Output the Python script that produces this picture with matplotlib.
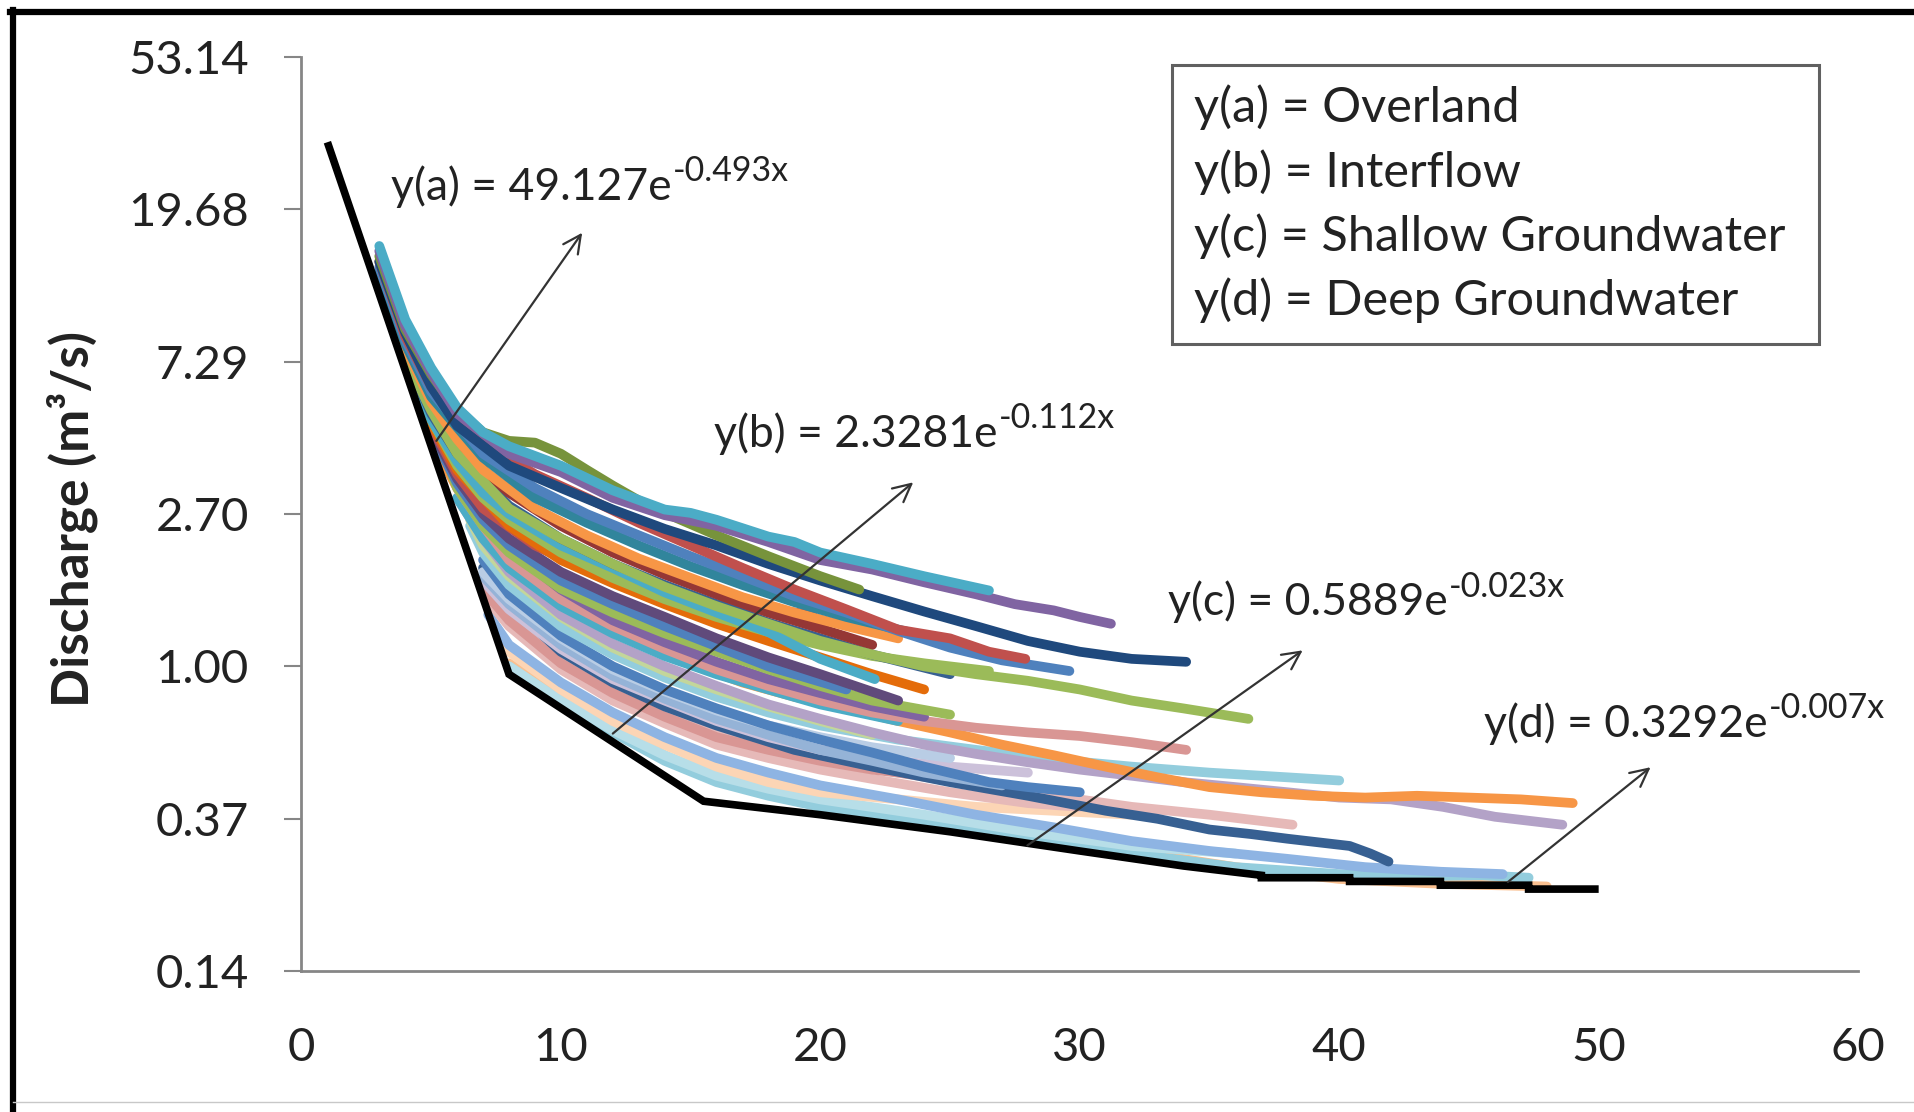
import matplotlib
matplotlib.use("Agg")
import matplotlib.pyplot as plt
from matplotlib.lines import Line2D
from matplotlib.patches import Rectangle

plt.rcParams['font.family'] = ['Lato', 'DejaVu Sans']

# ---------------- data ----------------
x_ticks = [0, 10, 20, 30, 40, 50, 60]
y_ticks = [0.13717, 0.37037, 1.0, 2.7, 7.29, 19.683, 53.1441]
y_tick_labels = ['0.14', '0.37', '1.00', '2.70', '7.29', '19.68', '53.14']

# master recession (black)
master_x = [1, 8, 15.5, 20, 25, 30, 34, 37, 37, 40.4, 40.4, 43.9, 43.9, 47.3, 47.3, 50]
master_y = [30.5, 0.95, 0.415, 0.38, 0.34, 0.30, 0.272, 0.256, 0.252, 0.252, 0.246, 0.246, 0.240, 0.240, 0.234, 0.234]

c02_x = [3, 4, 5, 6, 8, 10, 12, 14, 16, 18, 20, 22, 24, 26, 27.5, 29, 30, 31.2]
c02_y = [15, 9.2, 6.8, 5.2, 4.0, 3.55, 3.0, 2.68, 2.5, 2.25, 2.0, 1.88, 1.73, 1.6, 1.5, 1.44, 1.38, 1.32]
c01_x = [3, 4, 5, 6, 7, 8, 10, 12, 14, 15, 16, 18, 19, 20, 22, 24, 26.5]
c01_y = [15.5, 9.6, 7.0, 5.4, 4.6, 4.2, 3.7, 3.15, 2.78, 2.72, 2.6, 2.33, 2.25, 2.1, 1.95, 1.8, 1.64]
c03_x = [3, 4, 5, 6, 7, 8, 9, 10, 11, 12, 13, 14, 16, 18, 20, 21.5]
c03_y = [14.5, 9.0, 6.7, 5.3, 4.6, 4.35, 4.3, 4.0, 3.6, 3.25, 2.95, 2.72, 2.35, 2.05, 1.8, 1.65]
c04_x = [3, 4, 5, 6, 8, 10, 12, 14, 16, 18, 20, 22, 24, 26, 28, 30, 32, 34.1]
c04_y = [14, 8.8, 6.2, 4.8, 3.7, 3.2, 2.78, 2.45, 2.2, 1.95, 1.75, 1.58, 1.43, 1.3, 1.18, 1.1, 1.05, 1.03]
c05_x = [3, 4, 5, 7, 9, 11, 13, 15, 17, 19, 21, 23, 25, 26.5, 27.9]
c05_y = [14, 8.6, 6.2, 4.3, 3.5, 3.0, 2.55, 2.2, 1.9, 1.65, 1.45, 1.27, 1.2, 1.1, 1.05]
c06_x = [3, 4, 5, 7, 9, 11, 13, 15, 17, 19, 21, 23, 25, 27, 29.6]
c06_y = [13.5, 8.4, 6.0, 4.0, 3.2, 2.7, 2.35, 2.05, 1.8, 1.58, 1.42, 1.26, 1.13, 1.04, 0.97]
c07_x = [3, 4, 5, 7, 9, 11, 13, 15, 17, 19, 21, 24]
c07_y = [13, 8.2, 5.8, 3.9, 3.0, 2.55, 2.2, 1.92, 1.7, 1.52, 1.38, 1.22]
c08_x = [3.5, 4, 5, 6, 7, 9, 11, 13, 15, 17, 19, 21, 23]
c08_y = [11, 8.0, 5.6, 4.4, 3.6, 2.8, 2.35, 2.02, 1.78, 1.57, 1.42, 1.3, 1.2]
c09_x = [4, 5, 6, 8, 10, 12, 14, 16, 18, 20, 22, 24, 26, 28, 30, 32, 34, 36.5]
c09_y = [7.5, 5.3, 4.0, 2.8, 2.3, 1.95, 1.68, 1.48, 1.32, 1.18, 1.08, 1.0, 0.95, 0.91, 0.86, 0.8, 0.76, 0.71]
c10_x = [3.5, 4, 5, 6, 8, 10, 12, 14, 16, 18, 20, 22]
c10_y = [10.5, 7.8, 5.4, 4.2, 3.1, 2.5, 2.1, 1.82, 1.6, 1.42, 1.28, 1.15]
c11_x = [4, 5, 6, 8, 10, 12, 14, 16, 18, 20, 22, 25]
c11_y = [7.6, 5.2, 4.0, 2.85, 2.3, 1.95, 1.7, 1.5, 1.33, 1.2, 1.08, 0.95]
c12_x = [4, 5, 6, 7, 8, 10, 12, 14, 16, 18, 20, 22.1]
c12_y = [7.4, 5.0, 3.8, 3.1, 2.7, 2.2, 1.9, 1.62, 1.42, 1.25, 1.05, 0.92]
c13_x = [4.5, 5, 6, 7, 8, 10, 12, 14, 16, 18, 20, 22, 24, 26.5]
c13_y = [6.2, 5.0, 3.7, 3.0, 2.6, 2.1, 1.78, 1.55, 1.38, 1.25, 1.15, 1.07, 1.02, 0.97]
c14_x = [4.5, 5, 6, 8, 10, 12, 14, 16, 18, 20, 22, 24]
c14_y = [6.0, 4.9, 3.6, 2.5, 2.0, 1.72, 1.5, 1.32, 1.18, 1.06, 0.95, 0.86]
c15_x = [5, 6, 7, 9, 11.5, 14, 16, 18, 19.7]
c15_y = [4.8, 3.5, 2.8, 2.2, 1.8, 1.6, 1.5, 1.45, 1.4]
c16_x = [5, 6, 7, 8, 10, 12, 14, 16, 18, 20, 23]
c16_y = [4.7, 3.4, 2.7, 2.3, 1.85, 1.58, 1.38, 1.2, 1.06, 0.95, 0.8]
c17_x = [5, 6, 7, 8, 10, 12, 14, 16, 18, 21]
c17_y = [4.6, 3.3, 2.6, 2.2, 1.75, 1.5, 1.3, 1.14, 1.0, 0.86]
c18_x = [5.5, 6, 7, 8, 10, 12, 14, 16, 18, 20, 22, 25]
c18_y = [4.0, 3.2, 2.5, 2.1, 1.66, 1.42, 1.24, 1.1, 0.98, 0.88, 0.8, 0.73]
c19_x = [5, 6, 7, 9, 11, 13, 15, 17, 19, 21, 23, 25, 27, 29, 31, 33, 35, 37, 39, 41, 43, 45, 47, 49]
c19_y = [4.4, 3.2, 2.45, 1.8, 1.42, 1.18, 1.02, 0.9, 0.82, 0.76, 0.7, 0.65, 0.6, 0.56, 0.52, 0.485, 0.455, 0.44, 0.43, 0.425, 0.43, 0.425, 0.42, 0.41]
c20_x = [6, 7, 8, 10, 12, 14, 16, 18, 20, 22, 24, 26, 28, 30, 32, 34, 36, 38, 40, 42, 44, 46, 48.6]
c20_y = [3.0, 2.3, 1.85, 1.4, 1.16, 1.0, 0.88, 0.78, 0.71, 0.65, 0.6, 0.565, 0.535, 0.51, 0.49, 0.47, 0.455, 0.44, 0.425, 0.42, 0.40, 0.375, 0.356]
c21_x = [6, 7, 8, 10, 12, 14, 16, 18, 20, 22, 24, 26, 28, 30, 32, 34.1]
c21_y = [3.2, 2.5, 2.0, 1.55, 1.3, 1.12, 0.98, 0.88, 0.8, 0.74, 0.7, 0.67, 0.65, 0.635, 0.61, 0.58]
c22_x = [6, 7, 8, 10, 12, 14, 16, 18, 20, 23]
c22_y = [3.0, 2.3, 1.9, 1.48, 1.24, 1.07, 0.95, 0.86, 0.78, 0.7]
c23_x = [6.5, 7, 8, 10, 12, 14, 16, 18, 20, 23, 26, 29, 32, 35, 38, 40]
c23_y = [2.5, 2.1, 1.7, 1.3, 1.08, 0.93, 0.82, 0.74, 0.68, 0.62, 0.58, 0.545, 0.52, 0.5, 0.485, 0.475]
c24_x = [7, 8, 10, 12, 14, 16, 19, 22, 25, 28, 31, 33, 35, 36.6, 38, 40.4, 41.2, 41.9]
c24_y = [1.9, 1.5, 1.1, 0.9, 0.77, 0.68, 0.58, 0.52, 0.47, 0.43, 0.39, 0.37, 0.345, 0.335, 0.325, 0.31, 0.295, 0.28]
c25_x = [7, 8, 10, 12, 14, 16, 18, 20, 22, 24, 26.5, 28, 30]
c25_y = [2.0, 1.6, 1.22, 1.0, 0.86, 0.76, 0.68, 0.62, 0.57, 0.52, 0.47, 0.455, 0.44]
c26_x = [7, 8, 10, 12, 14, 16, 18, 20, 23, 26, 29, 32, 35, 38.2]
c26_y = [1.7, 1.4, 1.05, 0.87, 0.75, 0.66, 0.6, 0.55, 0.5, 0.46, 0.43, 0.4, 0.38, 0.356]
c27_x = [7.2, 8, 10, 12, 14, 16, 18, 20, 23, 26, 29, 32, 35, 38, 41, 43.9, 46.3]
c27_y = [1.4, 1.15, 0.9, 0.74, 0.63, 0.55, 0.5, 0.46, 0.42, 0.38, 0.35, 0.32, 0.3, 0.285, 0.27, 0.262, 0.258]
c28_x = [8, 10, 12, 14, 16, 18, 20, 24, 28, 32, 36, 40, 44, 48]
c28_y = [1.02, 0.82, 0.67, 0.56, 0.48, 0.44, 0.41, 0.37, 0.33, 0.3, 0.27, 0.25, 0.242, 0.238]
c29_x = [7, 8, 10, 12, 14, 16, 18, 20, 22, 25, 28, 30]
c29_y = [1.6, 1.3, 0.98, 0.8, 0.69, 0.6, 0.55, 0.51, 0.48, 0.44, 0.41, 0.4]
c30_x = [7, 8, 10, 12, 14, 16, 18, 20, 22, 25, 28]
c30_y = [1.75, 1.45, 1.12, 0.92, 0.8, 0.7, 0.63, 0.58, 0.55, 0.52, 0.5]
c31_x = [7, 8, 10, 12, 14, 16, 18, 20, 22, 25]
c31_y = [1.85, 1.55, 1.2, 0.98, 0.85, 0.75, 0.68, 0.63, 0.59, 0.55]
c32_x = [6.5, 7, 8, 10, 12, 14, 16, 18, 20, 22]
c32_y = [2.6, 2.2, 1.8, 1.38, 1.13, 0.97, 0.86, 0.77, 0.7, 0.64]
c33_x = [7.6, 8, 10, 12, 14, 16, 18, 20, 23, 26, 29, 32]
c33_y = [1.2, 1.1, 0.86, 0.7, 0.6, 0.52, 0.47, 0.44, 0.42, 0.4, 0.39, 0.38]
c34_x = [7, 8, 10, 12, 14, 16, 18, 20, 22, 24, 26]
c34_y = [1.65, 1.35, 1.02, 0.84, 0.72, 0.63, 0.58, 0.54, 0.51, 0.49, 0.48]
c35_x = [8, 10, 12, 14, 16, 18, 20, 24, 28, 32, 36]
c35_y = [1.0, 0.8, 0.66, 0.56, 0.49, 0.45, 0.42, 0.38, 0.34, 0.31, 0.295]
c36_x = [6, 7, 8, 10, 12, 14, 16, 18, 20, 22, 24]
c36_y = [3.3, 2.6, 2.15, 1.65, 1.35, 1.17, 1.03, 0.92, 0.84, 0.77, 0.72]
c37_x = [8, 10, 12, 14, 16, 18, 20, 24, 28, 32, 36, 40, 43.9, 45.5, 47.3]
c37_y = [1.0, 0.79, 0.65, 0.54, 0.47, 0.43, 0.4, 0.36, 0.325, 0.295, 0.27, 0.258, 0.255, 0.256, 0.252]
c39_x = [7, 8, 10, 12, 14, 16, 18, 20, 22, 24, 27]
c39_y = [1.8, 1.5, 1.15, 0.94, 0.81, 0.71, 0.64, 0.58, 0.54, 0.5, 0.46]

# draw order: bottom first
curves = [
    (c28_x, c28_y, '#FAC090'), (c37_x, c37_y, '#93CDDD'), (c35_x, c35_y, '#B7DEE8'),
    (c33_x, c33_y, '#FCD5B5'), (c27_x, c27_y, '#8EB4E3'), (c26_x, c26_y, '#E6B9B8'),
    (c29_x, c29_y, '#E6B9B8'), (c34_x, c34_y, '#D99694'), (c24_x, c24_y, '#376092'),
    (c30_x, c30_y, '#CCC1DA'), (c39_x, c39_y, '#95B3D7'), (c31_x, c31_y, '#B9CDE5'),
    (c25_x, c25_y, '#4F81BD'), (c23_x, c23_y, '#93CDDD'), (c32_x, c32_y, '#C3D69B'),
    (c20_x, c20_y, '#B3A2C7'), (c19_x, c19_y, '#F79646'), (c22_x, c22_y, '#4BACC6'),
    (c21_x, c21_y, '#D99694'), (c36_x, c36_y, '#8064A2'), (c18_x, c18_y, '#9BBB59'),
    (c17_x, c17_y, '#4F81BD'), (c16_x, c16_y, '#604A7B'), (c15_x, c15_y, '#C0504D'),
    (c14_x, c14_y, '#E46C0A'), (c13_x, c13_y, '#9BBB59'), (c12_x, c12_y, '#4BACC6'),
    (c11_x, c11_y, '#376092'), (c10_x, c10_y, '#953735'), (c09_x, c09_y, '#9BBB59'),
    (c08_x, c08_y, '#F79646'), (c07_x, c07_y, '#31859C'), (c06_x, c06_y, '#4F81BD'),
    (c05_x, c05_y, '#C0504D'), (c04_x, c04_y, '#1F497D'), (c03_x, c03_y, '#77933C'),
    (c02_x, c02_y, '#8064A2'), (c01_x, c01_y, '#4BACC6'),
]

eq_main = ["y(a) = 49.127e", "y(b) = 2.3281e", "y(c) = 0.5889e", "y(d) = 0.3292e"]
eq_sup = ["-0.493x", "-0.112x", "-0.023x", "-0.007x"]
eq_text_pos = [(3.45, 22.8), (15.9, 4.57), (33.4, 1.52), (45.57, 0.69)]
arrow_start = [(5.2, 4.35), (12.0, 0.645), (27.98, 0.311), (46.5, 0.245)]
arrow_tip = [(10.82, 16.9), (23.58, 3.32), (38.59, 1.11), (52.0, 0.518)]

legend_lines = ['y(a) = Overland', 'y(b) = Interflow',
                'y(c) = Shallow Groundwater', 'y(d) = Deep Groundwater']

# ---------------- figure ----------------
fig = plt.figure(figsize=(19.14, 11.12), dpi=100)
ax = fig.add_axes([0.1575, 0.1268, 0.8133, 0.8219])

for xs, ys, col in curves:
    ax.plot(xs, ys, color=col, lw=7, solid_capstyle='round', solid_joinstyle='round')
ax.plot(master_x, master_y, color='black', lw=5.5, solid_capstyle='butt', solid_joinstyle='miter', zorder=5)

ax.set_yscale('log')
ax.set_ylim(y_ticks[0], y_ticks[-1])
ax.set_xlim(0, 60)
ax.set_yticks(y_ticks)
ax.set_yticklabels(y_tick_labels)
ax.minorticks_off()
ax.set_xticks(x_ticks)
ax.set_xticklabels([str(v) for v in x_ticks])

txtcol = '#222222'
ax.tick_params(axis='y', direction='out', length=12, width=1.5, color='#868686',
               pad=26, labelsize=34, labelcolor=txtcol)
ax.tick_params(axis='x', length=0, pad=40, labelsize=34, labelcolor=txtcol)
for s in ['top', 'right']:
    ax.spines[s].set_visible(False)
for s in ['left', 'bottom']:
    ax.spines[s].set_color('#868686')
    ax.spines[s].set_linewidth(2)

for main, sup, pos, st, tp in zip(eq_main, eq_sup, eq_text_pos, arrow_start, arrow_tip):
    t = ax.text(pos[0], pos[1], main, fontsize=32, color=txtcol, ha='left', va='center', zorder=7)
    ax.annotate(sup, xy=(1.0, 0.86), xycoords=t, xytext=(1, 0), textcoords='offset points',
                fontsize=24.5, color=txtcol, ha='left', va='center', zorder=7)
    ax.annotate('', xy=tp, xytext=st,
                arrowprops=dict(arrowstyle='->', lw=1.6, color='#333333', mutation_scale=32,
                                shrinkA=0, shrinkB=0), zorder=8)

# legend box
ax.add_patch(Rectangle((0.5593, 0.686), 0.9749 - 0.5593, 0.9912 - 0.686, transform=ax.transAxes,
                       facecolor='white', edgecolor='#606060', lw=2.2, clip_on=False, zorder=9))
for i, line in enumerate(legend_lines):
    ax.text(0.5734, [0.945, 0.874, 0.804, 0.734][i], line, transform=ax.transAxes,
            fontsize=35, color=txtcol, ha='left', va='center', zorder=10)

fig.text(0.038, 0.533, 'Discharge (m³/s)', rotation=90, fontsize=37, fontweight='bold',
         color=txtcol, ha='center', va='center')

# outer frame (top and left only, as in the source image)
fig.add_artist(Line2D([0.005, 1.0], [0.9888, 0.9888], color='black', lw=4.5, transform=fig.transFigure))
fig.add_artist(Line2D([0.0068, 0.0068], [0.0, 0.991], color='black', lw=4.5, transform=fig.transFigure))
fig.add_artist(Line2D([0.0068, 1.0], [0.009, 0.009], color='#c8c8c8', lw=1, transform=fig.transFigure))

fig.savefig('out.png', dpi=100, facecolor='white')
